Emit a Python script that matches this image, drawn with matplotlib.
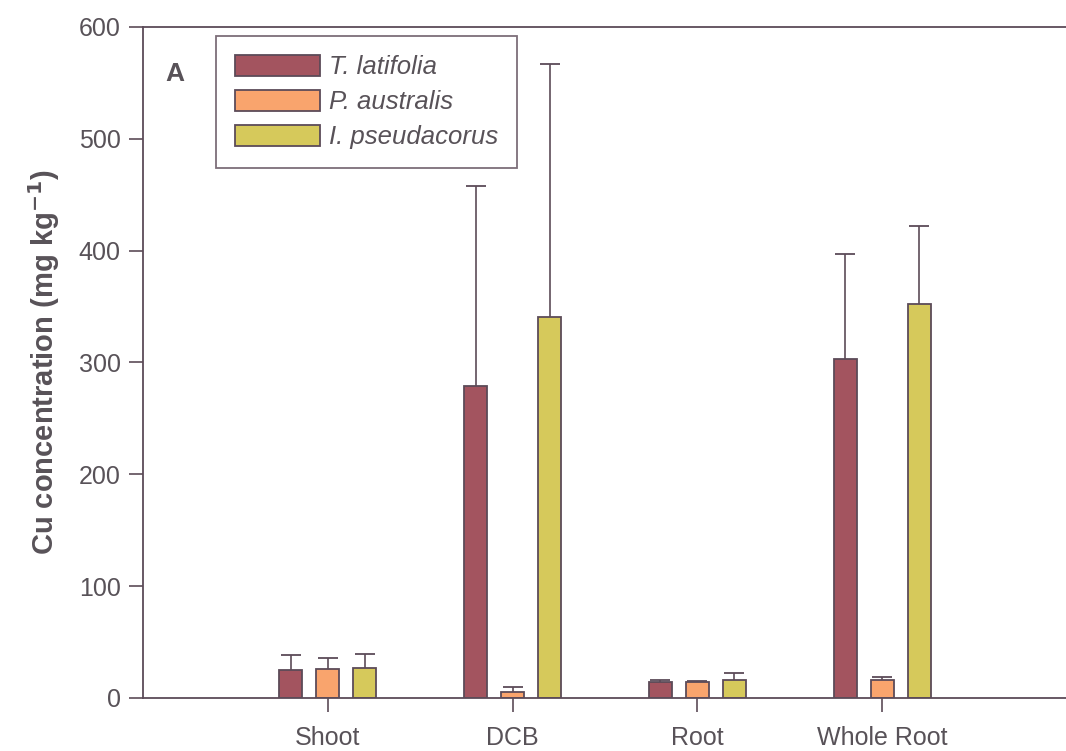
import matplotlib.pyplot as plt
import numpy as np
from matplotlib.patches import Patch

plt.rcParams["font.family"] = ["Liberation Sans", "DejaVu Sans"]

TISSUES = ["Shoot", "DCB", "Root", "Whole Root"]
SPECIES = ["T. latifolia", "P. australis", "I. pseudacorus"]

# mean Cu concentration and upper SD per tissue
t_latifolia_mean = [25, 279, 14, 303]
t_latifolia_sd = [13, 179, 2, 94]
p_australis_mean = [26, 5, 14, 16]
p_australis_sd = [10, 5, 1.5, 3]
i_pseudacorus_mean = [27, 341, 16, 352]
i_pseudacorus_sd = [12, 226, 6, 70]

COLORS = ["#a3545f", "#f9a46d", "#d6c95b"]
EDGE = "#5c4b58"
TEXT = "#585258"


def plot_bars(output_path: str) -> None:
    fig = plt.figure(figsize=(10.66, 7.51), dpi=100)
    ax = fig.add_axes([0.134, 0.0706, 0.867, 0.8935])

    x = np.arange(1, len(TISSUES) + 1)
    offsets = [-0.2, 0.0, 0.2]
    width = 0.125
    means = [t_latifolia_mean, p_australis_mean, i_pseudacorus_mean]
    sds = [t_latifolia_sd, p_australis_sd, i_pseudacorus_sd]

    for mean, sd, off, color in zip(means, sds, offsets, COLORS):
        mean = np.asarray(mean, dtype=float)
        top = mean + np.asarray(sd, dtype=float)
        ax.bar(x + off, mean, width, color=color, edgecolor=EDGE, linewidth=1.3, zorder=2)
        # upper-only error bars: stem plus a cap at the top
        ax.vlines(x + off, mean, top, colors=EDGE, linewidth=1.2, zorder=1)
        ax.plot(x + off, top, ls="none", marker="_", markersize=15,
                markeredgewidth=1.3, color=EDGE, zorder=1)

    ax.set_xlim(0, 5)
    ax.set_ylim(0, 600)
    ax.set_xticks(x)
    ax.set_xticklabels(TISSUES, fontsize=18, color=TEXT)
    ax.set_yticks(np.arange(0, 601, 100))
    ax.tick_params(axis="y", labelsize=18, labelcolor=TEXT, color=EDGE, length=10, width=1.2, pad=6)
    ax.tick_params(axis="x", color=EDGE, length=10, width=1.2, pad=10)
    ax.set_ylabel("Cu concentration (mg kg$^{\\mathbf{-1}}$)", fontsize=21,
                  fontweight="bold", color=TEXT, labelpad=12)

    ax.spines["right"].set_visible(False)
    for side in ("left", "bottom", "top"):
        ax.spines[side].set_color(EDGE)
        ax.spines[side].set_linewidth(1.3)

    ax.text(0.12, 558, "A", fontsize=19, fontweight="bold", color=TEXT, va="center")

    handles = [Patch(facecolor=c, edgecolor=EDGE, linewidth=1.3) for c in COLORS]
    leg = ax.legend(handles, SPECIES, loc="upper left", bbox_to_anchor=(0.079, 0.987),
                    prop={"style": "italic", "size": 18.5}, frameon=True, fancybox=False,
                    handlelength=3.3, handleheight=0.9, labelspacing=0.4,
                    borderpad=0.75, handletextpad=0.35, borderaxespad=0)
    leg.get_frame().set_edgecolor(EDGE)
    leg.get_frame().set_linewidth(1.3)
    for txt in leg.get_texts():
        txt.set_color(TEXT)

    fig.savefig(output_path, dpi=100)
    plt.close(fig)


plot_bars("out.png")
